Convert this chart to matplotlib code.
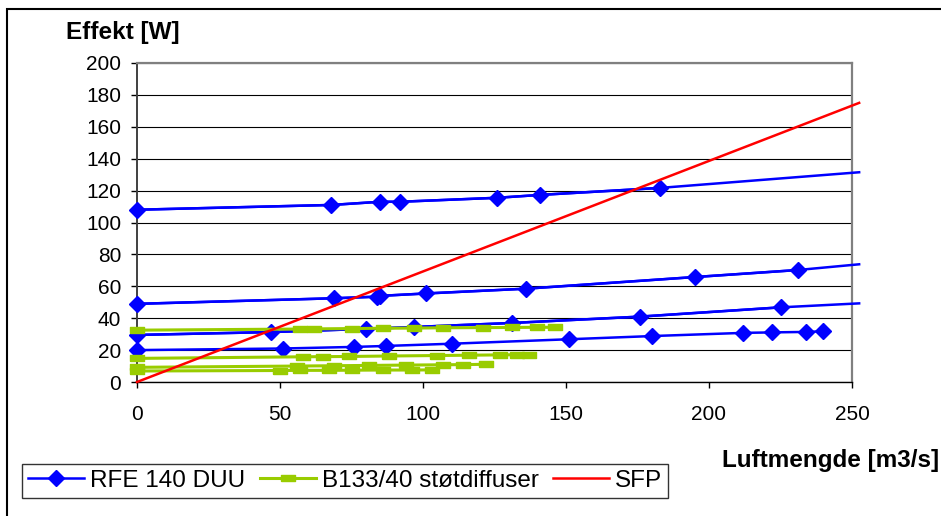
import matplotlib.pyplot as plt
from matplotlib.patches import Rectangle

plt.rcParams['font.family'] = ['Liberation Sans', 'DejaVu Sans']

# RFE 140 DUU curves (measured points), trend end value at the right edge
rfe_x = [
    [0, 68, 85, 92, 126, 141, 183],
    [0, 69, 84, 85, 101, 136, 195, 231],
    [0, 47, 80, 97, 131, 176, 225],
    [0, 51, 76, 87, 110, 151, 180, 212, 222, 234, 240],
]
rfe_y = [
    [108, 111, 113, 113, 115.5, 117.3, 121.7],
    [49, 52.5, 53.5, 54, 55.5, 58.5, 65.8, 70.2],
    [29.5, 31.3, 33.3, 34.5, 37, 41, 46.8],
    [20, 21, 22, 22.6, 24, 26.8, 28.8, 30.8, 31.1, 31.4, 31.8],
]
rfe_end = [131.5, 73.8, 49.3, None]
x_end = 252.5

# B133/40 stotdiffuser curves
b133_x = [
    [0, 57, 62, 75, 86, 97, 107, 121, 131, 140, 146],
    [0, 58, 65, 74, 88, 105, 116, 127, 133, 137],
    [0, 56, 69, 81, 94, 107, 114, 122],
    [0, 50, 57, 67, 75, 86, 96, 103],
]
b133_y = [
    [32.5, 33.2, 33.3, 33.5, 33.7, 33.8, 34.0, 34.1, 34.2, 34.3, 34.3],
    [14.8, 15.8, 15.9, 16.0, 16.3, 16.6, 16.8, 17.0, 17.1, 17.2],
    [9.2, 10.0, 10.2, 10.4, 10.6, 10.8, 10.9, 11.1],
    [6.9, 7.2, 7.3, 7.3, 7.4, 7.5, 7.5, 7.6],
]

# SFP line
sfp_x = [0, 252.5]
sfp_y = [0, 175]

blue = '#0000FF'
green = '#99CC00'
dash = [(-1, -0.4), (1, -0.4), (1, 0.4), (-1, 0.4), (-1, -0.4)]

fig = plt.figure(figsize=(9.41, 5.16), dpi=100)
ax = fig.add_axes([137 / 941, 1 - 382 / 516, 715 / 941, 319 / 516])

for i, (xs, ys) in enumerate(zip(rfe_x, rfe_y)):
    if rfe_end[i] is not None:
        ax.plot(xs + [x_end], ys + [rfe_end[i]], color=blue, lw=1.8,
                clip_on=False, zorder=3)
    ax.plot(xs, ys, color=blue, lw=1.8, marker='D', ms=8.5, clip_on=False,
            zorder=3, label='RFE 140 DUU' if i == 0 else None)

for i, (xs, ys) in enumerate(zip(b133_x, b133_y)):
    ax.plot(xs, ys, color=green, lw=2.2, marker=dash, ms=9.5, mec=green,
            mfc=green, clip_on=False, zorder=4,
            label='B133/40 støtdiffuser' if i == 0 else None)

ax.plot(sfp_x, sfp_y, color='#FF0000', lw=1.8, clip_on=False, zorder=5,
        label='SFP')

ax.set_xlim(0, 250)
ax.set_ylim(0, 200)
ax.set_xticks(range(0, 251, 50))
ax.set_yticks(range(0, 201, 20))
ax.yaxis.grid(True, color='black', lw=0.8)
ax.set_axisbelow(True)
ax.tick_params(axis='both', labelsize=15, length=4.5, width=1, direction='out')
ax.tick_params(axis='x', pad=12)
ax.tick_params(axis='y', pad=7)
ax.spines['top'].set_color('#808080')
ax.spines['right'].set_color('#808080')
ax.spines['top'].set_linewidth(1.6)
ax.spines['right'].set_linewidth(1.6)
ax.spines['left'].set_color('#404040')
ax.spines['left'].set_linewidth(1.4)
ax.spines['bottom'].set_linewidth(1.0)

fig.text(66 / 941, 1 - 39 / 516, 'Effekt [W]', fontsize=17.5,
         fontweight='bold', va='baseline', ha='left')
fig.text(722 / 941, 1 - 467 / 516, 'Luftmengde [m3/s]', fontsize=17.5,
         fontweight='bold', va='baseline', ha='left')

leg = fig.legend(loc='lower left', bbox_to_anchor=(22 / 941, 1 - 498 / 516),
                 ncol=3, fontsize=17.5, frameon=True, fancybox=False,
                 handlelength=2.3, handletextpad=0.25, columnspacing=0.6,
                 borderpad=0.25, borderaxespad=0)
leg.get_frame().set_edgecolor('black')
leg.get_frame().set_linewidth(1.0)

fig.patches.append(Rectangle((7 / 941, -0.1), 1.2, 1.1 - 9 / 516,
                             transform=fig.transFigure, fill=False,
                             edgecolor='black', lw=1.5))

fig.savefig('out.png', dpi=100)
